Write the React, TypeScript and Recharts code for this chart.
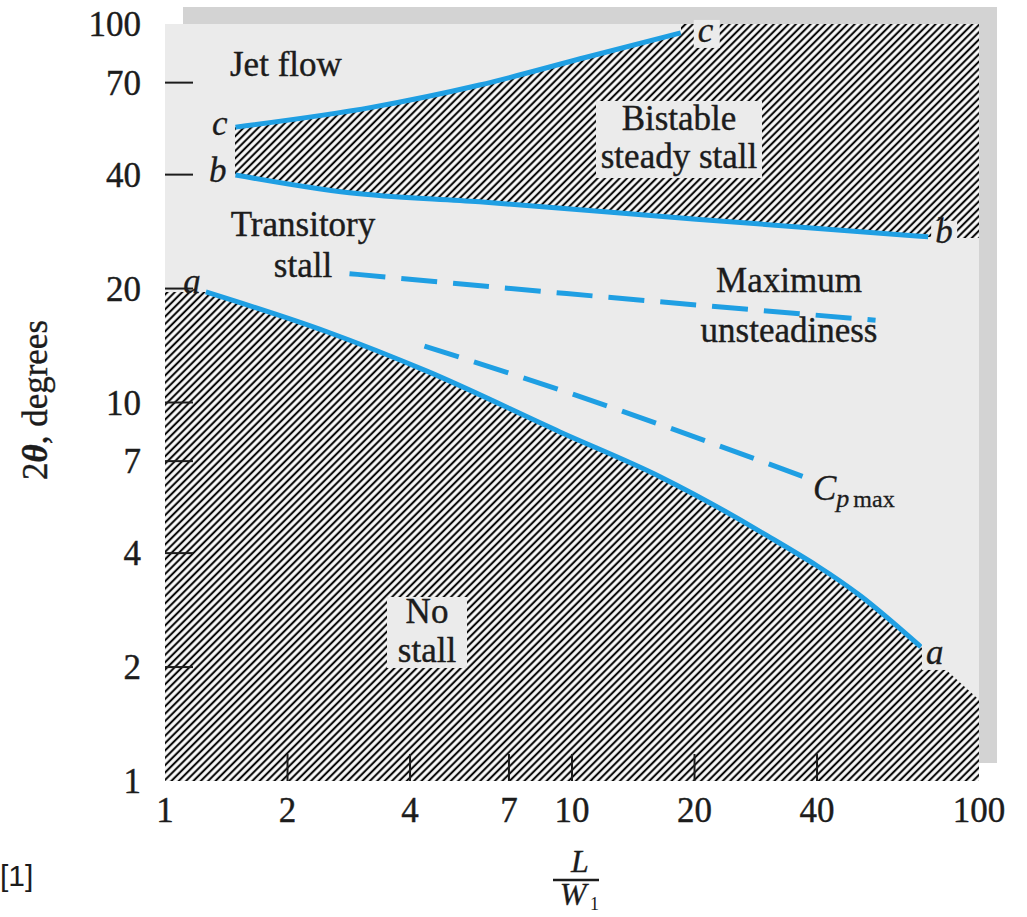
import { ComposedChart, Area, Line, XAxis, YAxis, ReferenceDot } from 'recharts';

// L/W1 vs 2θ (degrees) along each regime boundary
const lineAX = [1.26, 2.49, 4.4, 9.34, 16.5, 29, 51.2, 72];
const lineAY = [19.6, 15.4, 12.1, 8.36, 6.36, 4.56, 3.08, 2.26];
const lineBX = [1.49, 2.84, 5.93, 20.2, 75];
const lineBY = [39.9, 35.8, 33.9, 30.5, 27.4];
const lineCX = [1.49, 3.24, 5.93, 10.9, 18.5];
const lineCY = [53.4, 60.3, 69.0, 81.8, 94.7];
const unsteadyX = [2.84, 9.7, 55.7];
const unsteadyY = [21.9, 19.4, 16.5];
const cpMaxX = [4.34, 9.34, 39];
const cpMaxY = [14.1, 10.8, 6.24];

const xTicks = [1, 2, 4, 7, 10, 20, 40, 100];
const yTicks = [1, 2, 4, 7, 10, 20, 40, 70, 100];

const zip = (xs: number[], ys: number[]) => xs.map((x, i) => ({ x, y: ys[i] }));

const lineA = zip(lineAX, lineAY);
const lineB = zip(lineBX, lineBY);
const lineC = zip(lineCX, lineCY);
const unsteady = zip(unsteadyX, unsteadyY);
const cpMax = zip(cpMaxX, cpMaxY);

// hatched regions: no stall (under a), bistable (between b and c / top edge)
const noStall = [{ x: 1, y: 19.6 }, ...lineA, { x: 100, y: 1.64 }];
const bistableTop = [...lineC, { x: 18.5, y: 100 }, { x: 100, y: 100 }];
const bistableUnder = [...lineB, { x: 100, y: 27.2 }];

const W = 1027;
const H = 917;
const PLOT_LEFT = 165;
const PLOT_BOTTOM = 781;
const BG = '#ebebeb';
const BLUE = '#1f9fe3';
const INK = '#1c1c1c';
const SERIF = '"Liberation Serif", "Times New Roman", serif';

const XTick = (props: any) => {
  const { x, payload } = props;
  const v = payload.value;
  return (
    <g>
      {v !== 1 && v !== 100 && (
        <line x1={x} x2={x} y1={PLOT_BOTTOM - 27} y2={PLOT_BOTTOM} stroke={INK} strokeWidth={2} />
      )}
      <text x={x} y={822} textAnchor="middle" fontSize={35} fontFamily={SERIF} fill={INK} stroke={INK} strokeWidth={0.4}>
        {v}
      </text>
    </g>
  );
};

const YTick = (props: any) => {
  const { y, payload } = props;
  const v = payload.value;
  return (
    <g>
      {v !== 1 && v !== 100 && (
        <line x1={PLOT_LEFT} x2={PLOT_LEFT + 28} y1={y} y2={y} stroke={INK} strokeWidth={2} />
      )}
      <text x={141} y={y + 12} textAnchor="end" fontSize={35} fontFamily={SERIF} fill={INK} stroke={INK} strokeWidth={0.4}>
        {v}
      </text>
    </g>
  );
};

// italic letter next to a curve end, optionally on a cleared box
const curveTag = (text: string, dx: number, dy: number, anchor: 'start' | 'end', boxed: boolean) =>
  (props: any) => {
    const vb = props.viewBox || {};
    const tx = vb.x + dx;
    const ty = vb.y + dy;
    const bx = anchor === 'start' ? tx - 4 : tx - 22;
    return (
      <g>
        {boxed && <rect x={bx} y={ty - 22} width={26} height={28} fill={BG} />}
        <text x={tx} y={ty} textAnchor={anchor} fontSize={35} fontStyle="italic" fontFamily={SERIF} fill={INK} stroke={INK} strokeWidth={0.3}>
          {text}
        </text>
      </g>
    );
  };

export default function App() {
  const txt = { fontSize: 35, fontFamily: SERIF, fill: INK, stroke: INK, strokeWidth: 0.4 };
  return (
    <div style={{ position: 'absolute', left: 0, top: 0, width: W, height: H, background: '#fff' }}>
      <style>{'.crisp-area path { shape-rendering: crispEdges; }'}</style>
      <svg width={0} height={0} style={{ position: 'absolute' }}>
        <defs>
          <pattern id="hatch" patternUnits="userSpaceOnUse" width={5.2} height={5.2} patternTransform="rotate(45)">
            <rect width={5.2} height={5.2} fill="#fbfbfb" />
            <line x1={2.6} y1={0} x2={2.6} y2={5.2} stroke="#0a0a0a" strokeWidth={2.1} />
          </pattern>
        </defs>
      </svg>
      <div style={{ position: 'absolute', left: 183, top: 7, width: 814, height: 756, background: '#d3d3d3' }} />
      <div style={{ position: 'absolute', left: PLOT_LEFT, top: 24, width: 814, height: 757, background: BG }} />
      <div style={{ position: 'absolute', left: 0, top: 0 }}>
        <ComposedChart width={W} height={H} margin={{ top: 24, right: 48, bottom: 96, left: 105 }}>
          <XAxis
            dataKey="x"
            type="number"
            scale="log"
            domain={[1, 100]}
            ticks={xTicks}
            allowDataOverflow
            height={40}
            axisLine={false}
            tickLine={false}
            tick={<XTick />}
            interval={0}
          />
          <YAxis
            dataKey="y"
            type="number"
            scale="log"
            domain={[1, 100]}
            ticks={yTicks}
            allowDataOverflow
            width={60}
            axisLine={false}
            tickLine={false}
            tick={<YTick />}
            interval={0}
          />
          <Area className="crisp-area" data={bistableTop} dataKey="y" type="linear" baseValue={1} stroke="none" fill="url(#hatch)" fillOpacity={1} isAnimationActive={false} />
          <Area className="crisp-area" data={bistableUnder} dataKey="y" type="linear" baseValue={1} stroke="none" fill={BG} fillOpacity={1} isAnimationActive={false} />
          <Area data={noStall} dataKey="y" type="linear" baseValue={1} stroke="none" fill="url(#hatch)" fillOpacity={1} isAnimationActive={false} />
          <Line data={lineA} dataKey="y" type="monotone" stroke={BLUE} strokeWidth={5} dot={false} isAnimationActive={false} />
          <Line data={lineB} dataKey="y" type="monotone" stroke={BLUE} strokeWidth={5} dot={false} isAnimationActive={false} />
          <Line data={lineC} dataKey="y" type="monotone" stroke={BLUE} strokeWidth={5} dot={false} isAnimationActive={false} />
          <Line data={unsteady} dataKey="y" type="monotone" stroke={BLUE} strokeWidth={5} strokeDasharray="36 16" dot={false} isAnimationActive={false} />
          <Line data={cpMax} dataKey="y" type="monotone" stroke={BLUE} strokeWidth={5} strokeDasharray="36 16" dot={false} isAnimationActive={false} />
          <ReferenceDot x={lineAX[0]} y={lineAY[0]} r={0} label={curveTag('a', -5, 1, 'end', false)} />
          <ReferenceDot x={lineAX[lineAX.length - 1]} y={lineAY[lineAY.length - 1]} r={0} label={curveTag('a', 5, 17, 'start', true)} />
          <ReferenceDot x={lineBX[0]} y={lineBY[0]} r={0} label={curveTag('b', -9, 7, 'end', false)} />
          <ReferenceDot x={lineBX[lineBX.length - 1]} y={lineBY[lineBY.length - 1]} r={0} label={curveTag('b', 7, 6, 'start', true)} />
          <ReferenceDot x={lineCX[0]} y={lineCY[0]} r={0} label={curveTag('c', -8, 8, 'end', false)} />
          <ReferenceDot x={lineCX[lineCX.length - 1]} y={lineCY[lineCY.length - 1]} r={0} label={curveTag('c', 17, 9, 'start', true)} />
        </ComposedChart>
      </div>
      <svg width={W} height={H} style={{ position: 'absolute', left: 0, top: 0, pointerEvents: 'none' }}>
        <text x={230} y={76} {...txt}>Jet flow</text>
        <text x={303} y={236} textAnchor="middle" {...txt}>Transitory</text>
        <text x={303} y={277} textAnchor="middle" {...txt}>stall</text>
        <rect x={596} y={101} width={166} height={77} fill={BG} />
        <text x={679} y={130} textAnchor="middle" {...txt}>Bistable</text>
        <text x={679} y={168} textAnchor="middle" {...txt}>steady stall</text>
        <text x={789} y={292} textAnchor="middle" {...txt}>Maximum</text>
        <text x={789} y={342} textAnchor="middle" {...txt}>unsteadiness</text>
        <rect x={387} y={597} width={80} height={71} fill={BG} />
        <text x={427} y={623} textAnchor="middle" {...txt}>No</text>
        <text x={427} y={662} textAnchor="middle" {...txt}>stall</text>
        <text x={813} y={500} fontFamily={SERIF} fill={INK} stroke={INK} strokeWidth={0.3}>
          <tspan fontSize={35} fontStyle="italic">C</tspan>
          <tspan fontSize={26} fontStyle="italic" dy={7}>p</tspan>
          <tspan fontSize={24} dx={4}>max</tspan>
        </text>
        <text transform="translate(47,400) rotate(-90)" textAnchor="middle" {...txt}>
          2<tspan fontStyle="italic" fontWeight="bold">θ</tspan>, degrees
        </text>
        <text x={580} y={872} textAnchor="middle" fontSize={32} fontStyle="italic" fontFamily={SERIF} fill={INK} stroke={INK} strokeWidth={0.3}>L</text>
        <line x1={553} x2={599} y1={880} y2={880} stroke={INK} strokeWidth={2.5} />
        <text x={573} y={905} textAnchor="middle" fontSize={32} fontStyle="italic" fontFamily={SERIF} fill={INK} stroke={INK} strokeWidth={0.3}>W</text>
        <text x={590} y={910} fontSize={18} fontFamily={SERIF} fill={INK}>1</text>
        <text x={0} y={886} fontSize={30} fontFamily='"Liberation Sans", Arial, sans-serif' fill={INK}>[1]</text>
      </svg>
    </div>
  );
}
